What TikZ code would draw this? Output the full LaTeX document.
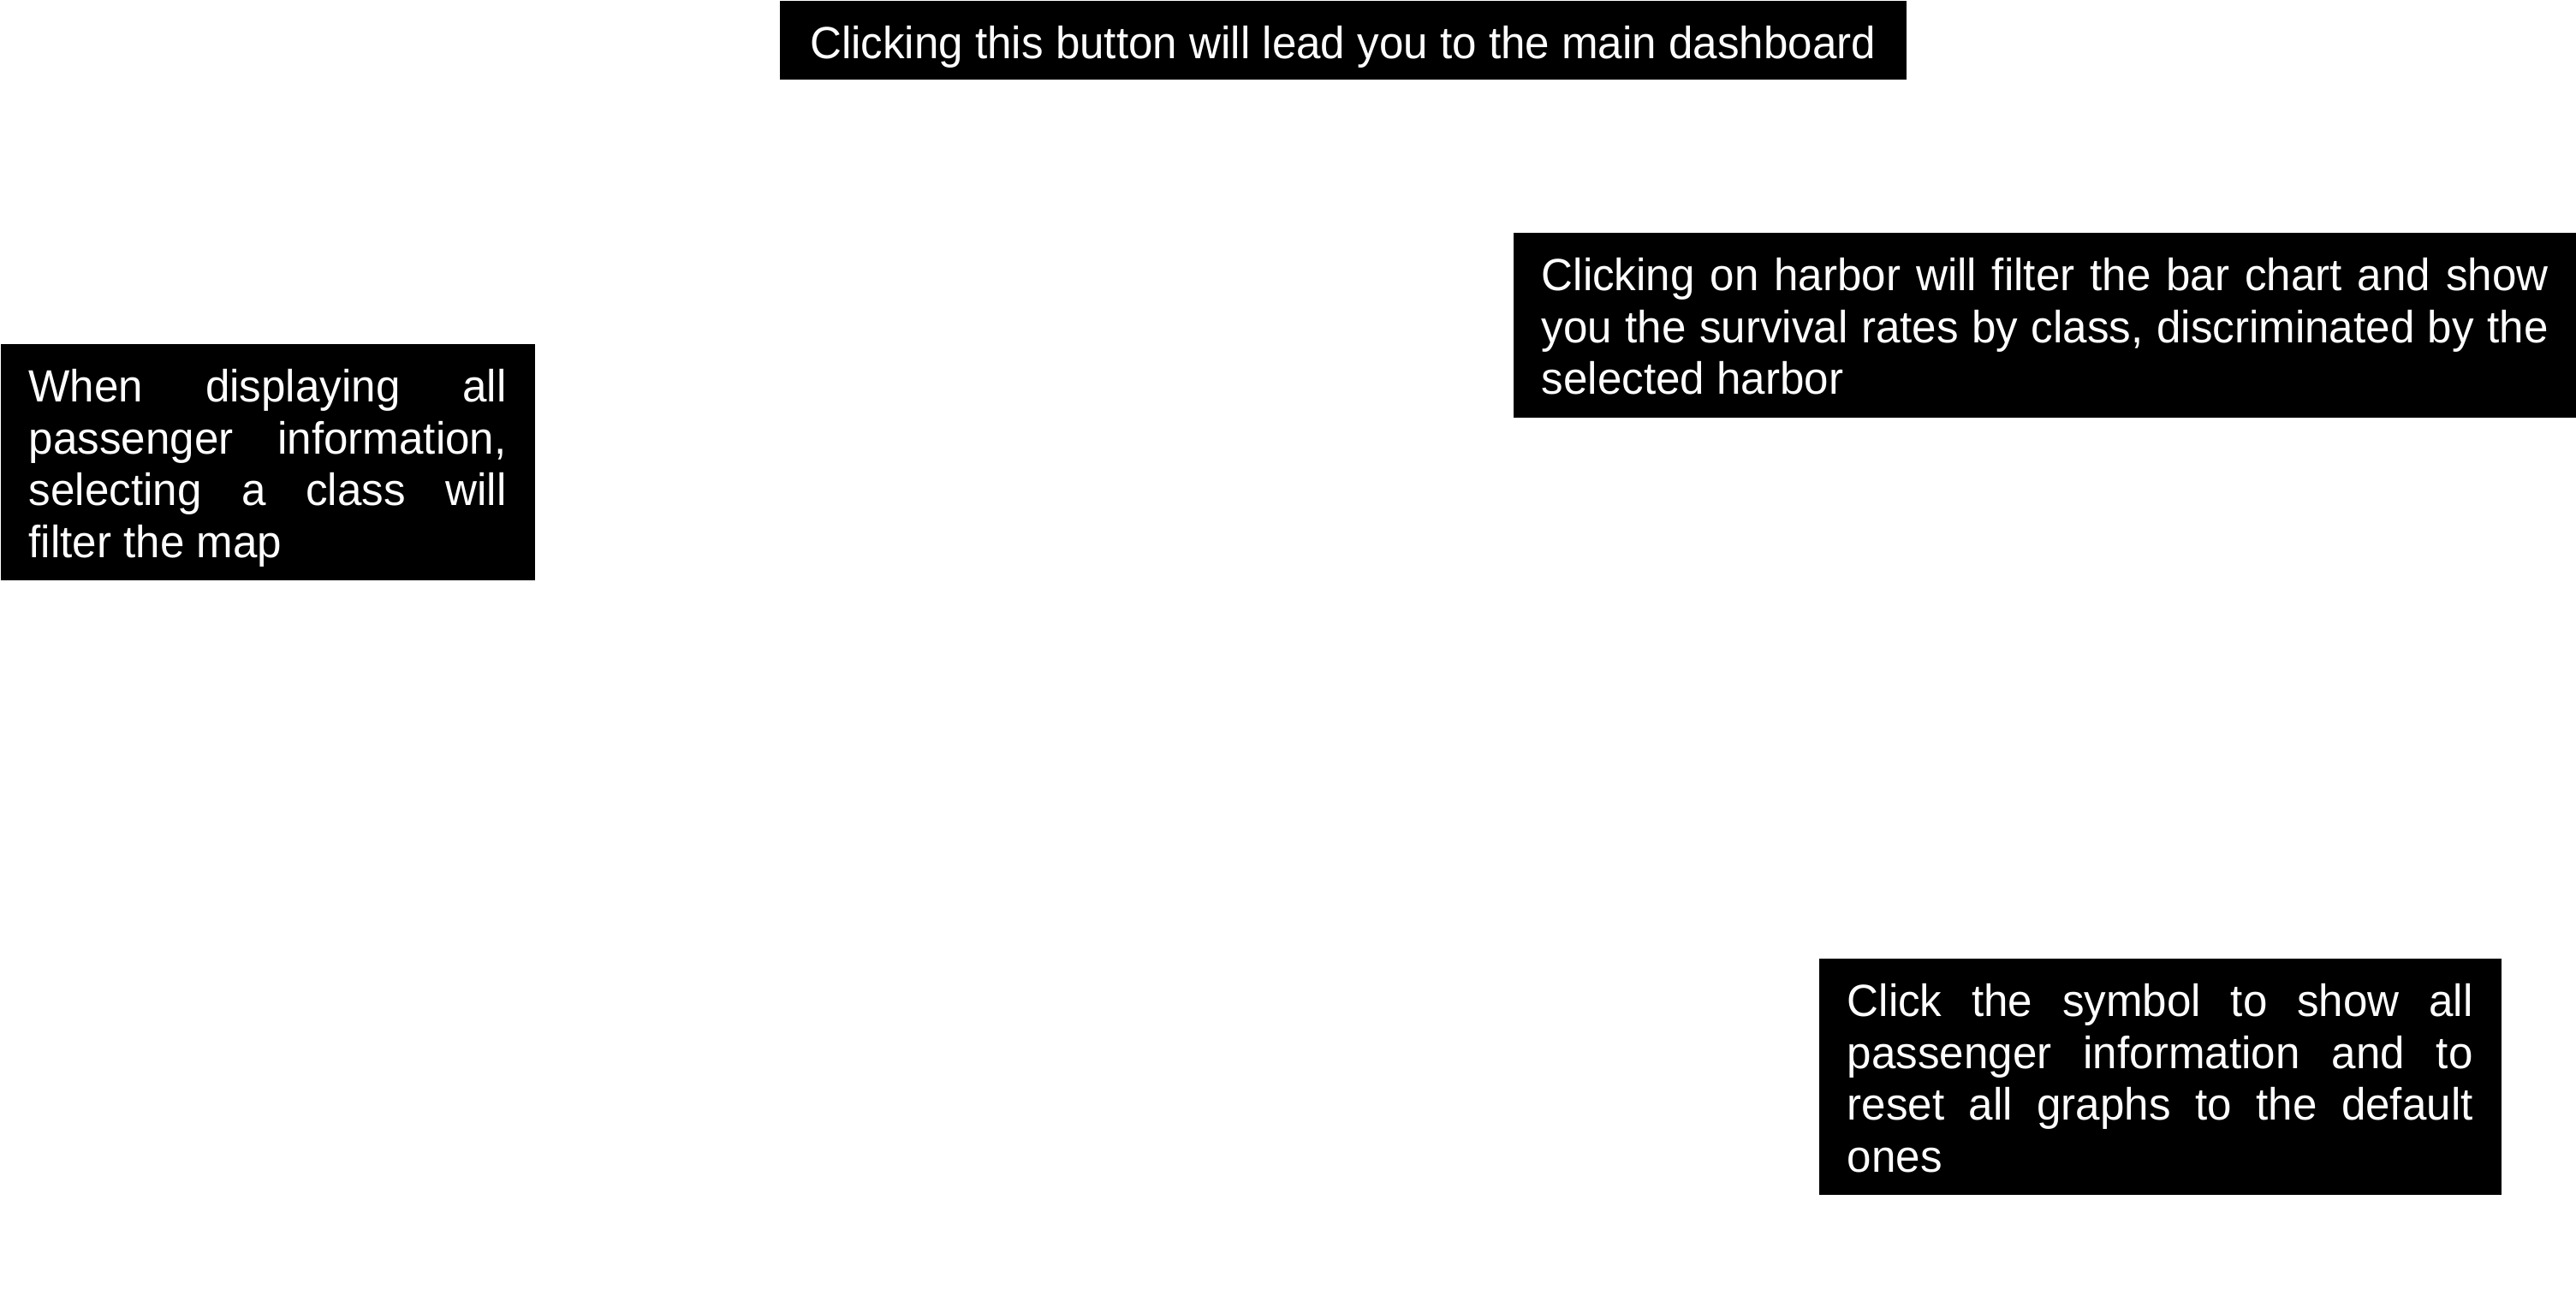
\documentclass[tikz,border=0pt]{standalone}
\usepackage{fontspec}
\newfontfamily\hintfont[FakeStretch=0.97]{Liberation Sans}
\usetikzlibrary{positioning}

\begin{document}
\begin{tikzpicture}[
    font=\hintfont\fontsize{15pt}{17.2pt}\selectfont,
    hint/.style={
		rectangle,
		fill=black,
		text=white,
		anchor=north west,
		inner xsep=0.33cm,
		inner ysep=0pt,
		text height=0.68cm,
		align=justify
	}
  ]
    % page frame
  \useasboundingbox (0,0) rectangle (30.09,-15.26);

  \node [hint, align=center, minimum width=13.16cm, text depth=0.24cm] (dashboard) at (9.10,0)
 {Clicking this button will lead you to the main dashboard};

  \node [hint, text width=11.76cm, text depth=1.48cm] (harbor) at (17.67,-2.71)
 {\hyphenpenalty=10000 Clicking on harbor will filter the bar chart and show\linebreak
  you the survival rates by class, discriminated by the\linebreak
  selected harbor};

  \node [hint, text width=5.58cm, text depth=2.08cm] (classes) at (0,-4.01)
 {\hyphenpenalty=10000 When displaying all\linebreak
  passenger information,\linebreak
  selecting a class will\linebreak
  filter the map};

  \node [hint, text width=7.31cm, text depth=2.08cm] (reset) at (21.24,-11.19)
 {\hyphenpenalty=10000 Click the symbol to show all\linebreak
  passenger information and to\linebreak
  reset all graphs to the default\linebreak
  ones};

\end{tikzpicture}
\end{document}
